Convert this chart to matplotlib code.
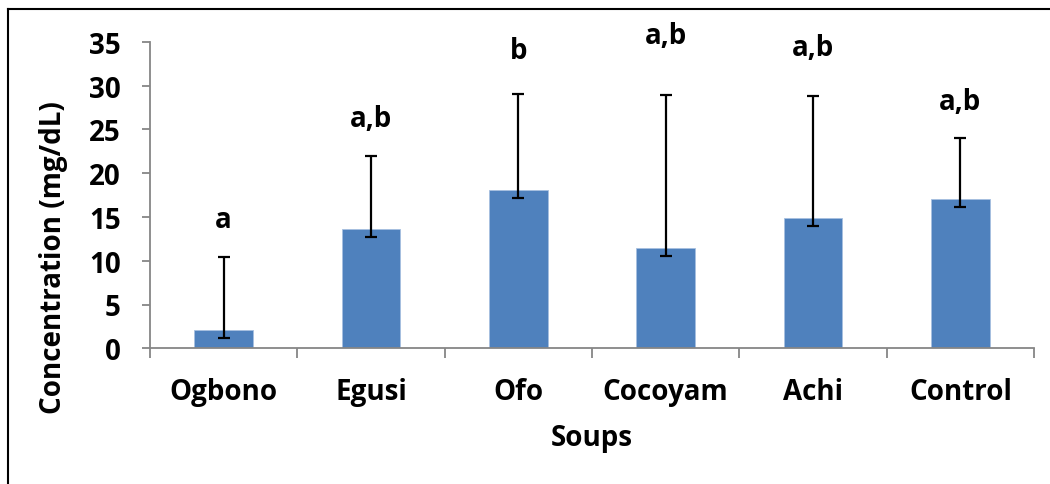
import matplotlib
matplotlib.use("Agg")
import matplotlib.pyplot as plt
from matplotlib.lines import Line2D

soups = ["Ogbono", "Egusi", "Ofo", "Cocoyam", "Achi", "Control"]
means = [2.1, 13.6, 18.1, 11.5, 14.9, 17.1]
err_low = [0.95, 0.95, 0.95, 0.95, 0.95, 1.0]
err_up = [8.3, 8.4, 10.9, 17.4, 13.9, 6.9]
letters = ["a", "a,b", "b", "a,b", "a,b", "a,b"]
letter_y = [13.8, 25.4, 33.1, 34.8, 33.5, 27.3]
yticks = [0, 5, 10, 15, 20, 25, 30, 35]

plt.rcParams['font.family'] = ['Open Sans', 'DejaVu Sans']
plt.rcParams['font.weight'] = 'bold'

W, H = 1050, 485
fig = plt.figure(figsize=(W / 100, H / 100), dpi=100)
ax = fig.add_axes([150 / W, 1 - 349.3 / H, 884 / W, 306.6 / H])

x = list(range(len(soups)))
ax.bar(x, means, width=0.4, color="#4F81BD", edgecolor="#A7C0E0",
       linewidth=0.6, zorder=2)
ax.errorbar(x, means, yerr=[err_low, err_up], fmt="none", ecolor="black",
            elinewidth=1.6, capsize=4.5, capthick=1.6, zorder=3)

for xi, lab, ly in zip(x, letters, letter_y):
    ax.text(xi, ly, lab, ha="center", va="baseline", fontsize=20,
            fontweight="bold", clip_on=False)

ax.set_xlim(-0.5, len(soups) - 0.5)
ax.set_ylim(0, 35)
ax.set_yticks(yticks)
ax.set_xticks(x)
ax.set_xticklabels(soups)
ax.set_xticks([i - 0.5 for i in range(len(soups) + 1)], minor=True)

grey = "#868686"
for s in ["top", "right"]:
    ax.spines[s].set_visible(False)
for s in ["left", "bottom"]:
    ax.spines[s].set_color(grey)
    ax.spines[s].set_linewidth(1.3)

ax.tick_params(axis="y", direction="out", length=6, width=1.3, color=grey,
               labelsize=20, pad=15)
ax.tick_params(axis="x", which="major", length=0, labelsize=20, pad=21)
ax.tick_params(axis="x", which="minor", direction="out", length=7,
               width=1.3, color=grey)

ax.set_xlabel("Soups", fontsize=20, fontweight="bold", labelpad=12)
ax.set_ylabel("Concentration (mg/dL)", fontsize=20, fontweight="bold")
ax.yaxis.set_label_coords(-0.093, 0.298)

# outer frame (top and left edges only are visible)
fig.add_artist(Line2D([8 / W, 1], [1 - 10 / H, 1 - 10 / H], color="black",
                      lw=1.5, transform=fig.transFigure))
fig.add_artist(Line2D([8 / W, 8 / W], [0, 1 - 10 / H], color="black",
                      lw=1.5, transform=fig.transFigure))

fig.savefig("out.png", dpi=100)
